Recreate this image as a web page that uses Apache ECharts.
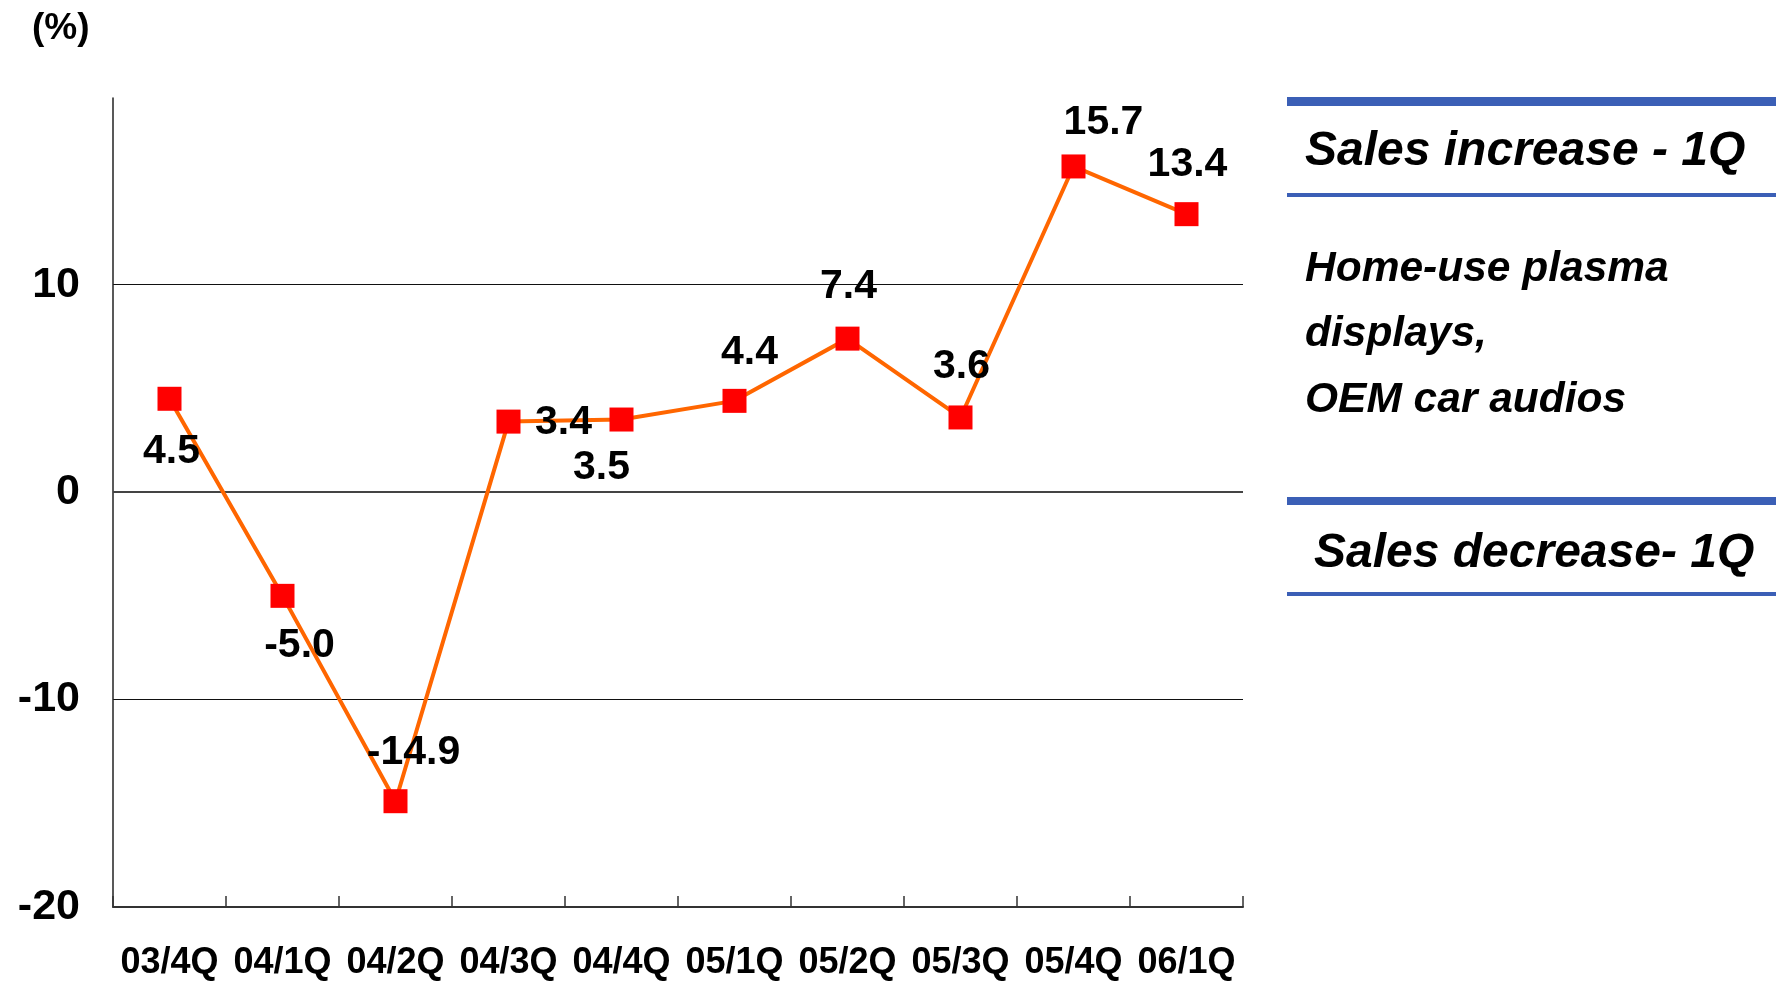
<!DOCTYPE html>
<html>
<head>
<meta charset="utf-8">
<title>Sales change by quarter</title>
<script src="https://cdn.jsdelivr.net/npm/echarts@6/dist/echarts.min.js"></script>
<style>
  html, body { margin: 0; padding: 0; background: #fff; }
  #chart { width: 1776px; height: 981px; }
</style>
</head>
<body>
<div id="chart"></div>
<script>
// data
var quarters = ['03/4Q', '04/1Q', '04/2Q', '04/3Q', '04/4Q', '05/1Q', '05/2Q', '05/3Q', '05/4Q', '06/1Q'];
var changePct = [4.5, -5.0, -14.9, 3.4, 3.5, 4.4, 7.4, 3.6, 15.7, 13.4];
var yTicks = { min: -20, max: 19, step: 10 };
var noteLines = ['Home-use plasma', 'displays,', 'OEM car audios'];

// where each value label sits relative to its marker (px)
var labelOffsets = [[2, 53], [17, 50], [18, -49], [55, 1], [-20, 48], [15, -48], [1, -52], [1, -51], [30, -44], [1, -49]];

var FONT = '"Liberation Sans", Arial, Helvetica, sans-serif';
var BLUE = '#3B5FB6';

var seriesData = changePct.map(function (v, i) {
  return {
    value: v,
    label: { offset: labelOffsets[i] }
  };
});

var graphics = [
  { type: 'text', left: 32, top: 10, style: { text: '(%)', font: 'bold 37px ' + FONT, fill: '#000' } },
  { type: 'rect', shape: { x: 1287, y: 97, width: 489, height: 9 }, style: { fill: BLUE } },
  { type: 'rect', shape: { x: 1287, y: 193, width: 489, height: 4 }, style: { fill: BLUE } },
  { type: 'rect', shape: { x: 1287, y: 497, width: 489, height: 8 }, style: { fill: BLUE } },
  { type: 'rect', shape: { x: 1287, y: 592, width: 489, height: 4 }, style: { fill: BLUE } },
  { type: 'text', x: 1305, y: 152, style: { text: 'Sales increase - 1Q', font: 'italic bold 48px ' + FONT, fill: '#000', textVerticalAlign: 'middle' } },
  { type: 'text', x: 1314, y: 554, style: { text: 'Sales decrease- 1Q', font: 'italic bold 48px ' + FONT, fill: '#000', textVerticalAlign: 'middle' } }
];
noteLines.forEach(function (t, i) {
  graphics.push({
    type: 'text', x: 1305, y: 269 + i * 65.5,
    style: { text: t, font: 'italic bold 42.5px ' + FONT, fill: '#000', textVerticalAlign: 'middle' }
  });
});

var chart = echarts.init(document.getElementById('chart'));
chart.setOption({
  animation: false,
  backgroundColor: '#fff',
  grid: { left: 113, right: 533, top: 98, bottom: 70, containLabel: false },
  xAxis: {
    type: 'category',
    data: quarters,
    boundaryGap: true,
    axisLine: { onZero: false, lineStyle: { color: '#333', width: 2 } },
    axisTick: { show: true, inside: true, length: 11, lineStyle: { color: '#333', width: 1.5 } },
    axisLabel: { color: '#000', fontFamily: FONT, fontWeight: 'bold', fontSize: 36, margin: 38, interval: 0 },
    splitLine: { show: false }
  },
  yAxis: {
    type: 'value',
    min: yTicks.min,
    max: yTicks.max,
    interval: yTicks.step,
    axisLine: { show: true, lineStyle: { color: '#222', width: 1.5 } },
    axisTick: { show: false },
    axisLabel: { color: '#000', fontFamily: FONT, fontWeight: 'bold', fontSize: 43, margin: 33, showMaxLabel: false },
    splitLine: { show: true, showMinLine: false, showMaxLine: false, lineStyle: { color: '#111', width: 1.2 } }
  },
  series: [{
    type: 'line',
    data: seriesData,
    symbol: 'rect',
    symbolSize: 24,
    itemStyle: { color: '#FF0000' },
    lineStyle: { color: '#FF6600', width: 4 },
    z: 3,
    label: {
      show: true,
      position: 'inside',
      align: 'center',
      verticalAlign: 'middle',
      color: '#000',
      fontFamily: FONT,
      fontWeight: 'bold',
      fontSize: 41,
      formatter: function (p) { return p.value.toFixed(1); }
    },
    // slightly heavier zero line, as in the original
    markLine: {
      silent: true,
      symbol: 'none',
      label: { show: false },
      lineStyle: { color: '#444', width: 2, type: 'solid' },
      data: [{ yAxis: 0 }],
      z: 1
    }
  }],
  graphic: graphics
});
</script>
</body>
</html>
